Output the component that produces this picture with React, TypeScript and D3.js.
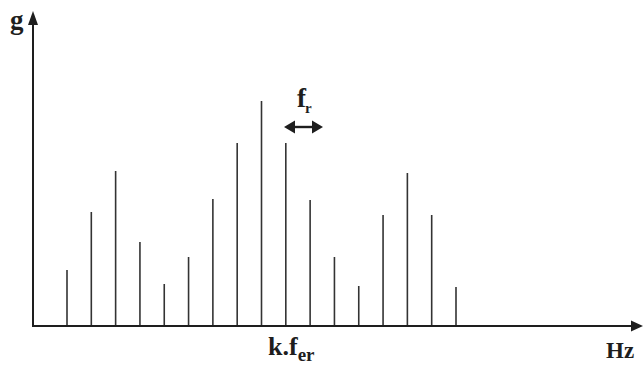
import React from "react";
import * as d3 from "d3";

const harmonics: number[] = [-8, -7, -6, -5, -4, -3, -2, -1, 0, 1, 2, 3, 4, 5, 6, 7, 8];
const amplitudes: number[] = [56, 114, 155, 84, 42, 69, 127, 183, 225, 183, 126, 69, 40, 111, 153, 111, 39];
const yLabel = "g";
const xLabel = "Hz";
const centerLabel = "k.f";
const centerSub = "er";
const spacingLabel = "f";
const spacingSub = "r";

const W = 644;
const H = 367;
const baseY = 326;
const axisX = 33;

export default function App() {
  const x = d3.scaleLinear().domain([-8, 8]).range([67, 456]);
  const y = d3.scaleLinear().domain([0, 240]).range([baseY, baseY - 240]);
  const font = "'Liberation Serif', 'Times New Roman', serif";
  const ink = "#1e1e1e";
  return (
    <svg width={W} height={H} style={{ position: "absolute", left: 0, top: 0, background: "#fff" }}>
      <rect width={W} height={H} fill="#fff" />
      {/* spectral lines */}
      {harmonics.map((h, i) => (
        <line key={h} x1={x(h)} x2={x(h)} y1={y(0)} y2={y(amplitudes[i])} stroke="#333" strokeWidth={1.6} />
      ))}
      {/* axes */}
      <line x1={axisX} x2={axisX} y1={baseY + 1} y2={20} stroke={ink} strokeWidth={2} />
      <path d={`M${axisX},11 L${axisX - 5},25 L${axisX + 5},25 Z`} fill={ink} />
      <line x1={axisX - 1} x2={634} y1={baseY} y2={baseY} stroke={ink} strokeWidth={2.2} />
      <path d={`M643,${baseY} L631,${baseY - 5.5} L631,${baseY + 5.5} Z`} fill={ink} />
      {/* labels */}
      <text x={10} y={29} fontFamily={font} fontWeight="bold" fontSize={27} fill={ink}>{yLabel}</text>
      <text x={606} y={358} fontFamily={font} fontWeight="bold" fontSize={23} fill={ink}>{xLabel}</text>
      <text x={268} y={355} fontFamily={font} fontWeight="bold" fontSize={26} fill={ink}>
        {centerLabel}
        <tspan fontSize={19} dy={6}>{centerSub}</tspan>
      </text>
      <text x={297} y={107} fontFamily={font} fontWeight="bold" fontSize={27} fill={ink}>
        {spacingLabel}
        <tspan fontSize={15} dx={-1} dy={6}>{spacingSub}</tspan>
      </text>
      {/* double arrow for f_r */}
      <line x1={292} x2={315} y1={127} y2={127} stroke={ink} strokeWidth={2.4} />
      <path d="M284,127 L295,120.5 L295,133.5 Z" fill={ink} />
      <path d="M323,127 L312,120.5 L312,133.5 Z" fill={ink} />
    </svg>
  );
}
